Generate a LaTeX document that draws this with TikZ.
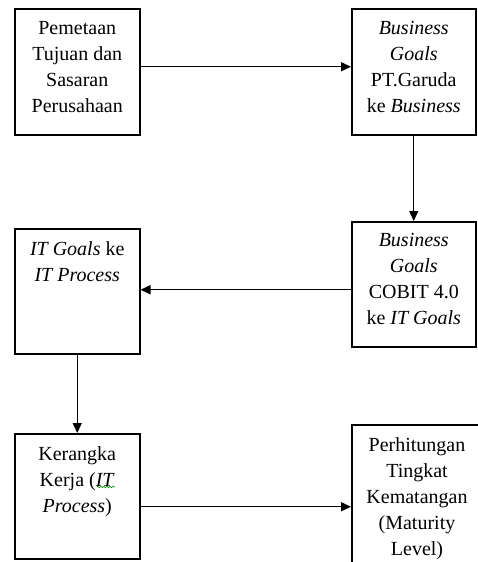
\documentclass[tikz,border=0pt]{standalone}
\usepackage{fontspec}
\setmainfont{Liberation Serif}
\usetikzlibrary{arrows.meta,decorations.pathmorphing}
\tikzset{
  box/.style={draw, line width=1.5pt, minimum width=125pt, minimum height=125pt, inner sep=0pt, anchor=north west},
  txt/.style={anchor=north, align=center, inner sep=0pt, font=\fontsize{20}{26}\selectfont},
  arr/.style={line width=1.4pt, -{Triangle[length=10pt,width=9pt]}},
  squiggle/.style={green!55!black, line width=0.6pt, decorate, decoration={snake, amplitude=0.8pt, segment length=3pt}}
}
\begin{document}
\begin{tikzpicture}[x=1pt,y=-1pt]
\useasboundingbox (0,0) rectangle (478,562);
\clip (0,0) rectangle (478,562);
\node[box, minimum height=126pt] (b1) at (14,8) {};
\node[box, minimum width=124pt, minimum height=126pt] (b2) at (351,8) {};
\node[box, minimum width=124pt] (b3) at (351,221) {};
\node[box] (b4) at (14,228) {};
\node[box] (b5) at (14,433) {};
\node[box, minimum width=140pt, minimum height=160pt] (b6) at (351,424) {};

\node[txt] (t1) at ([yshift=-13pt]b1.north) {Pemetaan\\Tujuan dan\\Sasaran\\Perusahaan};
\node[txt] (t2) at ([yshift=-13pt]b2.north) {\textit{Business}\\\textit{Goals}\\PT.Garuda\\ke \textit{Business}};
\node[txt] (t3) at ([yshift=-12pt]b3.north) {\textit{Business}\\\textit{Goals}\\COBIT 4.0\\ke \textit{IT Goals}};
\node[txt] (t4) at ([yshift=-13pt]b4.north) {\textit{IT Goals} ke\\\textit{IT Process}};
\node[txt] (t5) at ([yshift=-13pt]b5.north) {Kerangka\\Kerja (\textit{IT}\\\textit{Process})};
\node[txt] (t6) at (417,437) {Perhitungan\\Tingkat\\Kematangan\\(Maturity\\Level)};

\coordinate (w1) at (97,487);
\coordinate (w2) at (115,487);
\draw[squiggle] (w1) -- (w2);

\draw[arr] ([yshift=5pt]b1.east) -- ([yshift=5pt]b2.west);
\draw[arr] (b2.south) -- (b3.north);
\draw[arr] ([yshift=-5.5pt]b3.west) -- ([yshift=-5.5pt]b3.west -| b4.east);
\draw[arr] (b4.south) -- (b5.north);
\draw[arr] ([yshift=-10.5pt]b5.east) -- ([yshift=-10.5pt]b5.east -| b6.west);
\end{tikzpicture}
\end{document}
